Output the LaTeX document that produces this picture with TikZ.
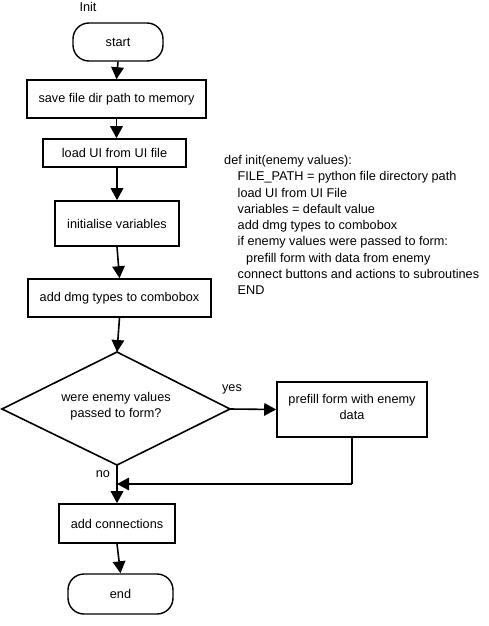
\documentclass[tikz,border=0pt]{standalone}
\usepackage{fontspec}
\setmainfont{Liberation Sans}
\usetikzlibrary{arrows.meta,shapes.geometric}
\begin{document}
\begin{tikzpicture}[x=1pt,y=-1pt,
  every node/.style={font=\fontsize{12.7}{16}\selectfont},
  box/.style={draw,line width=1.6pt,inner sep=0pt,align=center},
  term/.style={draw,line width=1.4pt,rounded corners=16pt,inner sep=0pt},
  arr/.style={line width=1.6pt,-{Triangle[length=12pt,width=12.5pt]}},
  ln/.style={line width=1.6pt},
  lbl/.style={inner sep=0pt}]
\useasboundingbox (0,0) rectangle (488,626);
\node[lbl] (title) at (88,7) {Init};
\node[term,minimum width=90pt,minimum height=38pt] (start) at (118,42) {start};
\node[box,minimum width=179pt,minimum height=38pt] (save) at (116.5,99) {save file dir path to memory};
\node[box,minimum width=143pt,minimum height=28pt] (load) at (114.5,153) {load UI from UI file};
\node[box,minimum width=124pt,minimum height=45pt] (init) at (117,223.5) {initialise variables};
\node[box,minimum width=183pt,minimum height=38pt] (dmg) at (119.5,298) {add dmg types to combobox};
\coordinate (dtop) at (117,352);
\coordinate (dleft) at (2,409);
\coordinate (dright) at (230,409);
\coordinate (dbot) at (117,465);
\draw[ln,line join=miter] (dtop) -- (dright) -- (dbot) -- (dleft) -- cycle;
\node[lbl,align=center] (q) at (116,406) {were enemy values\\passed to form?};
\node[box,minimum width=150pt,minimum height=55pt] (prefill) at (352,409.5) {};
\node[lbl,align=center] (ptext) at (352,407) {prefill form with enemy\\data};
\node[box,minimum width=116pt,minimum height=39pt] (conn) at (117,523.5) {add connections};
\node[term,minimum width=105pt,minimum height=40pt] (end) at (120.5,594) {end};
\node[lbl] (yes) at (232,389) {yes};
\node[lbl] (no) at (103,474) {no};
\coordinate (join) at (117,484);
\coordinate (corner) at (352,484);
\node[lbl,align=left,anchor=north west,font=\fontsize{12.7}{16.3}\selectfont] (code) at (224,155) {def init(enemy values):\\
\hspace*{13.5pt}FILE\_PATH = python file directory path\\
\hspace*{13.5pt}load UI from UI File\\
\hspace*{13.5pt}variables = default value\\
\hspace*{13.5pt}add dmg types to combobox\\
\hspace*{13.5pt}if enemy values were passed to form:\\
\hspace*{22pt}prefill form with data from enemy\\
\hspace*{13.5pt}connect buttons and actions to subroutines\\
\hspace*{13.5pt}END};
\draw[arr] (start.south) -- (save.north);
\draw[arr] (save.south) -- (save.south |- load.north);
\draw[arr] (init.north |- load.south) -- (init.north);
\draw[arr] (init.south) -- (dmg.north);
\draw[arr] (dmg.south) -- (dtop);
\draw[arr] (dright) -- (prefill.west);
\draw[ln] (prefill.south) -- (corner);
\draw[arr] (corner) -- (join);
\draw[arr] (dbot) -- (conn.north);
\draw[arr] (conn.south) -- (end.north);
\end{tikzpicture}
\end{document}
